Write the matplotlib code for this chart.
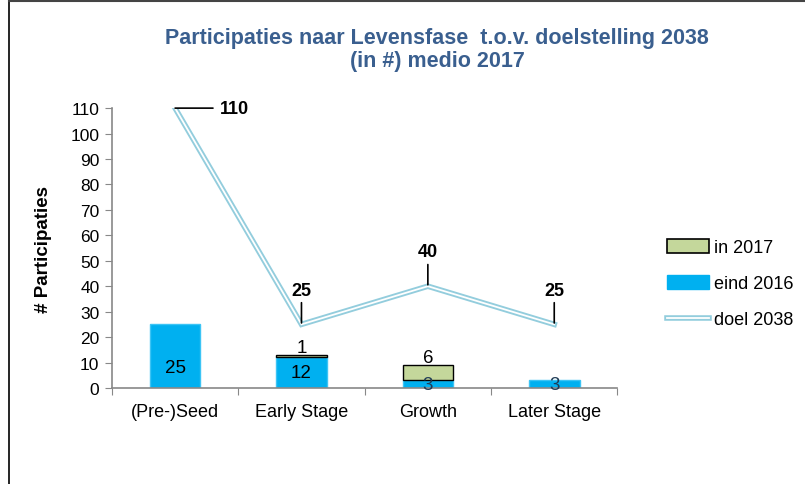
import matplotlib
matplotlib.use("Agg")
import matplotlib.pyplot as plt
import matplotlib.patheffects as pe
from matplotlib.patches import Patch
from matplotlib.lines import Line2D
import numpy as np

plt.rcParams['font.family'] = ['Liberation Sans', 'DejaVu Sans']

categories = ["(Pre-)Seed", "Early Stage", "Growth", "Later Stage"]
eind_2016 = [25, 12, 3, 3]
in_2017 = [0, 1, 6, 0]
doel_2038 = [110, 25, 40, 25]

blue = "#00b0f0"
green = "#c4d79b"
line_col = "#93cddd"
title_col = "#3a5f8f"

fig = plt.figure(figsize=(8.05, 4.85), dpi=100)
ax = fig.add_axes([0.139, 0.198, 0.628, 0.577])

x = np.arange(len(categories))
w = 0.4
ax.bar(x, eind_2016, width=w, color=blue, edgecolor="#3cc4f5", linewidth=1, zorder=2)
edge_2017 = ["black" if v > 0 else "none" for v in in_2017]
ax.bar(x, in_2017, width=w, bottom=eind_2016, color=green, edgecolor=edge_2017,
       linewidth=1.0, zorder=2)

# double line for target
ax.plot(x, doel_2038, color=line_col, linewidth=4, zorder=3, solid_joinstyle='miter')
ax.plot(x, doel_2038, color="white", linewidth=1.3, zorder=4, solid_joinstyle='miter')

# bar labels
for xi, v in zip(x, eind_2016):
    ax.text(xi, min(v / 2, 8), str(v), ha="center", va="center", fontsize=13.5,
            color="black" if v > 5 else "#1f3b55", zorder=5)
for xi, b, v in zip(x, eind_2016, in_2017):
    if v > 0:
        ax.text(xi, b + v + 3, str(v), ha="center", va="center", fontsize=13.5,
                color="black", zorder=5)

# target labels with leader lines
for i, (xi, v) in enumerate(zip(x, doel_2038)):
    if i == 0:
        ax.annotate(str(v), xy=(xi, v), xytext=(xi + 0.47, v), ha="center", va="center",
                    fontsize=13, fontweight="bold",
                    arrowprops=dict(arrowstyle="-", color="black", lw=1.2,
                                    shrinkA=3, shrinkB=0), zorder=5)
    else:
        ax.annotate(str(v), xy=(xi, v), xytext=(xi, v + 13.5), ha="center", va="center",
                    fontsize=13, fontweight="bold",
                    arrowprops=dict(arrowstyle="-", color="black", lw=1.2,
                                    shrinkA=1, shrinkB=1), zorder=5)

ax.set_xlim(-0.5, len(categories) - 0.5)
ax.set_ylim(0, 110)
ax.set_yticks(np.arange(0, 111, 10))
ax.set_xticks(np.arange(-0.5, len(categories), 1))
ax.set_xticklabels([])
ax.set_xticks(x, minor=True)
ax.set_xticklabels(categories, minor=True, fontsize=13)
ax.tick_params(axis="x", which="minor", length=0, pad=11)
ax.tick_params(axis="x", which="major", length=5, color="#888888", direction="out")
ax.tick_params(axis="y", length=5, color="#888888", direction="out", labelsize=12.5, pad=4)

for s in ["top", "right"]:
    ax.spines[s].set_visible(False)
for s in ["left", "bottom"]:
    ax.spines[s].set_color("#888888")
    ax.spines[s].set_linewidth(1.2)

ax.set_ylabel("# Participaties", fontsize=13.5, fontweight="bold", labelpad=13)

fig.text(0.543, 0.897, "Participaties naar Levensfase  t.o.v. doelstelling 2038\n(in #) medio 2017",
         ha="center", va="center", fontsize=15.5, fontweight="bold", color=title_col,
         linespacing=1.12)

handles = [
    Patch(facecolor=green, edgecolor="black", linewidth=1.2, label="in 2017"),
    Patch(facecolor=blue, edgecolor=blue, label="eind 2016"),
    Line2D([0], [0], color="white", linewidth=1.3,
           path_effects=[pe.Stroke(linewidth=4, foreground=line_col), pe.Normal()],
           label="doel 2038"),
]
fig.legend(handles=handles, loc="center left", bbox_to_anchor=(0.809, 0.413),
           frameon=False, fontsize=13, handlelength=2.3, handleheight=0.75,
           labelspacing=1.05, handletextpad=0.3)

# partial frame border
fig.add_artist(Line2D([9 / 805, 9 / 805], [0, 1 - 2 / 485], transform=fig.transFigure,
                      color="black", linewidth=1.2))
fig.add_artist(Line2D([9 / 805, 1], [1 - 2 / 485, 1 - 2 / 485], transform=fig.transFigure,
                      color="#444444", linewidth=1.5))

fig.savefig("out.png", dpi=100)
